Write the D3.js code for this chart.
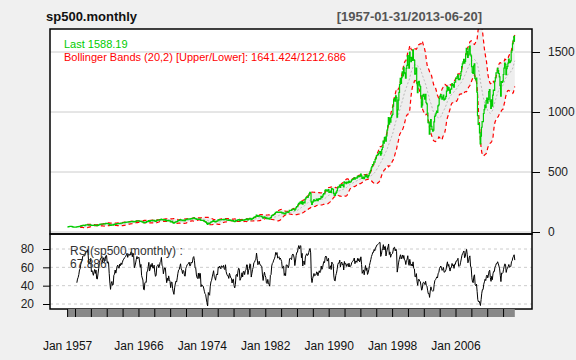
<!DOCTYPE html>
<html lang="en">
<head>
  <meta charset="UTF-8">
  <title>sp500.monthly</title>
  <style>
    body { margin: 0; background: #f0f0f0; }
    text { font-family: "Liberation Sans", Arial, sans-serif; }
  </style>
</head>
<body>
  <script src="https://d3js.org/d3.v7.min.js"></script>
  <script>
    // Monthly closes of the S&P 500, Jan 1957 - Jun 2013 (one row per year)
    let startYear = 1957;
    let closes = [
      44.72, 43.26, 44.11, 45.74, 47.43, 47.37, 47.91, 45.22, 42.42, 41.06, 41.72, 39.99,
      41.70, 40.84, 42.10, 43.44, 44.09, 45.24, 47.19, 47.75, 50.06, 51.33, 52.48, 55.21,
      55.42, 55.41, 55.44, 57.59, 58.68, 58.47, 60.51, 59.60, 56.88, 57.52, 58.28, 59.89,
      55.61, 56.12, 55.34, 54.37, 55.83, 56.92, 55.51, 56.96, 53.52, 53.39, 55.54, 58.11,
      61.78, 63.44, 65.06, 65.31, 66.56, 64.64, 66.76, 68.07, 66.73, 68.62, 71.32, 71.55,
      68.84, 69.96, 69.55, 65.24, 59.63, 54.75, 58.23, 59.12, 56.27, 56.52, 62.26, 63.10,
      66.20, 64.29, 66.57, 69.80, 70.80, 69.37, 69.13, 72.50, 71.70, 74.01, 73.23, 75.02,
      77.04, 77.80, 78.98, 79.46, 80.37, 81.69, 83.18, 81.83, 84.18, 84.86, 84.42, 84.75,
      87.56, 87.43, 86.16, 89.11, 88.42, 84.12, 85.25, 87.17, 89.96, 92.42, 91.61, 92.43,
      92.88, 91.22, 89.23, 91.06, 86.13, 84.74, 83.60, 77.10, 76.56, 80.20, 80.45, 80.33,
      86.61, 86.78, 90.20, 94.01, 89.08, 90.64, 94.75, 93.64, 96.71, 93.90, 94.00, 96.47,
      92.24, 89.36, 90.20, 97.59, 98.68, 99.58, 97.74, 98.86, 102.67, 103.41, 108.37, 103.86,
      103.01, 98.13, 101.51, 103.69, 103.46, 97.71, 91.83, 95.51, 93.12, 97.24, 93.81, 92.06,
      85.02, 89.50, 89.63, 81.52, 76.55, 72.72, 78.05, 81.52, 84.21, 83.25, 87.20, 92.15,
      95.88, 96.75, 100.31, 103.95, 99.63, 98.70, 95.58, 99.03, 98.34, 94.23, 93.99, 102.09,
      103.94, 106.57, 107.20, 107.67, 109.53, 107.14, 107.39, 111.09, 110.55, 111.58, 116.67, 118.05,
      116.03, 111.68, 111.52, 106.97, 104.95, 104.26, 108.22, 104.25, 108.43, 108.29, 95.96, 97.55,
      96.57, 96.22, 93.98, 90.31, 87.28, 86.00, 79.31, 72.15, 63.54, 73.90, 69.97, 68.56,
      76.98, 81.59, 83.36, 87.30, 91.15, 95.19, 88.75, 86.88, 83.87, 89.04, 91.24, 90.19,
      100.86, 99.71, 102.77, 101.64, 100.18, 104.28, 103.44, 102.91, 105.24, 102.90, 102.10, 107.46,
      102.03, 99.82, 98.42, 98.44, 96.12, 100.48, 98.85, 96.77, 96.53, 92.34, 94.83, 95.10,
      89.25, 87.04, 89.21, 96.83, 97.24, 95.53, 100.68, 103.29, 102.54, 93.15, 94.70, 96.11,
      99.93, 96.28, 101.59, 101.76, 99.08, 102.91, 103.81, 109.32, 109.32, 101.82, 106.16, 107.94,
      114.16, 113.66, 102.09, 106.29, 111.24, 114.24, 121.67, 122.38, 125.46, 127.47, 140.52, 135.76,
      129.55, 131.27, 136.00, 132.81, 132.59, 131.21, 130.92, 122.79, 116.18, 121.89, 126.35, 122.55,
      120.40, 113.11, 111.96, 116.44, 111.88, 109.61, 107.09, 119.51, 120.42, 133.71, 138.54, 140.64,
      145.30, 148.06, 152.96, 164.42, 162.39, 168.11, 162.56, 164.40, 166.07, 163.55, 166.40, 164.93,
      163.41, 157.06, 159.18, 160.05, 150.55, 153.18, 150.66, 166.68, 166.10, 166.09, 163.58, 167.24,
      179.63, 181.18, 180.66, 179.83, 189.55, 191.85, 190.92, 188.63, 182.08, 189.82, 202.17, 211.28,
      211.78, 226.92, 238.90, 235.52, 247.35, 250.84, 236.12, 252.93, 231.32, 243.98, 249.22, 242.17,
      274.08, 284.20, 291.70, 288.36, 290.10, 304.00, 318.66, 329.80, 321.83, 251.79, 230.30, 247.08,
      257.07, 267.82, 258.89, 261.33, 262.16, 273.50, 272.02, 261.52, 271.91, 278.97, 273.70, 277.72,
      297.47, 288.86, 294.87, 309.64, 320.52, 317.98, 346.08, 351.45, 349.15, 340.36, 345.99, 353.40,
      329.08, 331.89, 339.94, 330.80, 361.23, 358.02, 356.15, 322.56, 306.05, 304.00, 322.22, 330.22,
      343.93, 367.07, 375.22, 375.34, 389.83, 371.16, 387.81, 395.43, 387.86, 392.45, 375.22, 417.09,
      408.79, 412.70, 403.69, 414.95, 415.35, 408.14, 424.21, 414.03, 417.80, 418.68, 431.35, 435.71,
      438.78, 443.38, 451.67, 440.19, 450.19, 450.53, 448.13, 463.56, 458.93, 467.83, 461.79, 466.45,
      481.61, 467.14, 445.77, 450.91, 456.50, 444.27, 458.26, 475.49, 462.69, 472.35, 453.69, 459.27,
      470.42, 487.39, 500.71, 514.71, 533.40, 544.75, 562.06, 561.88, 584.41, 581.50, 605.37, 615.93,
      636.02, 640.43, 645.50, 654.17, 669.12, 670.63, 639.95, 651.99, 687.33, 705.27, 757.02, 740.74,
      786.16, 790.82, 757.12, 801.34, 848.28, 885.14, 954.29, 899.47, 947.28, 914.62, 955.40, 970.43,
      980.28, 1049.34, 1101.75, 1111.75, 1090.82, 1133.84, 1120.67, 957.28, 1017.01, 1098.67, 1163.63, 1229.23,
      1279.64, 1238.33, 1286.37, 1335.18, 1301.84, 1372.71, 1328.72, 1320.41, 1282.71, 1362.93, 1388.91, 1469.25,
      1394.46, 1366.42, 1498.58, 1452.43, 1420.60, 1454.60, 1430.83, 1517.68, 1436.51, 1429.40, 1314.95, 1320.28,
      1366.01, 1239.94, 1160.33, 1249.46, 1255.82, 1224.38, 1211.23, 1133.58, 1040.94, 1059.78, 1139.45, 1148.08,
      1130.20, 1106.73, 1147.39, 1076.92, 1067.14, 989.82, 911.62, 916.07, 815.28, 885.76, 936.31, 879.82,
      855.70, 841.15, 848.18, 916.92, 963.59, 974.50, 990.31, 1008.01, 995.97, 1050.71, 1058.20, 1111.92,
      1131.13, 1144.94, 1126.21, 1107.30, 1120.68, 1140.84, 1101.72, 1104.24, 1114.58, 1130.20, 1173.82, 1211.92,
      1181.27, 1203.60, 1180.59, 1156.85, 1191.50, 1191.33, 1234.18, 1220.33, 1228.81, 1207.01, 1249.48, 1248.29,
      1280.08, 1280.66, 1294.83, 1310.61, 1270.09, 1270.20, 1276.66, 1303.82, 1335.85, 1377.94, 1400.63, 1418.30,
      1438.24, 1406.82, 1420.86, 1482.37, 1530.62, 1503.35, 1455.27, 1473.99, 1526.75, 1549.38, 1481.14, 1468.36,
      1378.55, 1330.63, 1322.70, 1385.59, 1400.38, 1280.00, 1267.38, 1282.83, 1166.36, 968.75, 896.24, 903.25,
      825.88, 735.09, 797.87, 872.81, 919.14, 919.32, 987.48, 1020.62, 1057.08, 1036.19, 1095.63, 1115.10,
      1073.87, 1104.49, 1169.43, 1186.69, 1089.41, 1030.71, 1101.60, 1049.33, 1141.20, 1183.26, 1180.55, 1257.64,
      1286.12, 1327.22, 1325.83, 1363.61, 1345.20, 1320.64, 1292.28, 1218.89, 1131.42, 1253.30, 1246.96, 1257.60,
      1312.41, 1365.68, 1408.47, 1397.91, 1310.33, 1362.16, 1379.32, 1406.58, 1440.67, 1412.16, 1416.18, 1426.19,
      1498.11, 1514.68, 1569.19, 1597.57, 1630.74, 1588.19
    ];

    // Axis ticks and labels
    let priceTicks = [0, 500, 1000, 1500];
    let rsiTicks = [20, 40, 60, 80];
    let labelYears = [1957, 1966, 1974, 1982, 1990, 1998, 2006];
    let stripYears = d3.range(1958, 2014, 2);

    let titleText = "sp500.monthly";
    let rangeText = "[1957-01-31/2013-06-20]";
    let lastText = "Last 1588.19";
    let bbText = "Bollinger Bands (20,2) [Upper/Lower]: 1641.424/1212.686";
    let rsiText = ["RSI(sp500.monthly) :", "67.886"];

    // Panel geometry
    let svgWidth = 576, svgHeight = 360;
    let left = 50, right = 532;
    let mainTop = 29, mainBottom = 234, rsiBottom = 309;

    let svg = d3.select("body").append("svg")
      .attr("width", svgWidth)
      .attr("height", svgHeight);

    // Bollinger bands (20, 2) on close
    let bands = closes.map((c, i) => {
      if (i < 19) return null;
      let win = closes.slice(i - 19, i + 1);
      let m = d3.mean(win);
      let sd = Math.sqrt(d3.mean(win, v => (v - m) * (v - m)));
      return { i: i, mavg: m, up: m + 2 * sd, dn: m - 2 * sd };
    }).filter(d => d);

    // RSI(14), Wilder smoothing
    let rsi = [];
    let avgUp = 0, avgDn = 0;
    for (let i = 1; i < closes.length; i++) {
      let ch = closes[i] - closes[i - 1];
      let u = Math.max(ch, 0), dn = Math.max(-ch, 0);
      if (i <= 14) {
        avgUp += u / 14; avgDn += dn / 14;
        if (i === 14) rsi.push({ i: i, v: 100 * avgUp / (avgUp + avgDn) });
      } else {
        avgUp = (avgUp * 13 + u) / 14;
        avgDn = (avgDn * 13 + dn) / 14;
        rsi.push({ i: i, v: 100 * avgUp / (avgUp + avgDn) });
      }
    }

    // Scales
    let x = d3.scaleLinear().domain([0, closes.length - 1]).range([67.6, 514.8]);
    let yMain = d3.scaleLinear().domain([0, 1500]).range([232, 52]);
    let yRsi = d3.scaleLinear().domain([20, 80]).range([304, 249]);
    let idx = (yr) => (yr - startYear) * 12;

    // Panel backgrounds
    svg.append("rect").attr("x", left).attr("y", mainTop)
      .attr("width", right - left).attr("height", rsiBottom - mainTop)
      .attr("fill", "white");

    svg.append("clipPath").attr("id", "clipMain").append("rect")
      .attr("x", left).attr("y", mainTop).attr("width", right - left).attr("height", mainBottom - mainTop);
    svg.append("clipPath").attr("id", "clipRsi").append("rect")
      .attr("x", left).attr("y", mainBottom).attr("width", right - left).attr("height", rsiBottom - mainBottom);

    // Grid lines
    svg.selectAll(".gridMain").data(priceTicks).enter().append("line")
      .attr("x1", left).attr("x2", right)
      .attr("y1", d => yMain(d)).attr("y2", d => yMain(d))
      .attr("stroke", "#cccccc").attr("stroke-width", 1);

    svg.selectAll(".gridRsi").data(rsiTicks).enter().append("line")
      .attr("x1", left).attr("x2", right)
      .attr("y1", d => yRsi(d)).attr("y2", d => yRsi(d))
      .attr("stroke", "#cccccc").attr("stroke-width", 1)
      .attr("stroke-dasharray", "3,3");

    // Main panel: bands and price
    let mainG = svg.append("g").attr("clip-path", "url(#clipMain)");

    mainG.append("path").datum(bands)
      .attr("d", d3.area().x(d => x(d.i)).y0(d => yMain(d.dn)).y1(d => yMain(d.up)))
      .attr("fill", "#eeeeee");

    mainG.append("path").datum(bands)
      .attr("d", d3.line().x(d => x(d.i)).y(d => yMain(d.mavg)))
      .attr("fill", "none").attr("stroke", "#b8b8b8").attr("stroke-width", 1)
      .attr("stroke-dasharray", "2,2");

    ["up", "dn"].forEach(k => {
      mainG.append("path").datum(bands)
        .attr("d", d3.line().x(d => x(d.i)).y(d => yMain(d[k])))
        .attr("fill", "none").attr("stroke", "#ff0000").attr("stroke-width", 1.2)
        .attr("stroke-dasharray", "4,3");
    });

    mainG.append("path").datum(closes)
      .attr("d", d3.line().curve(d3.curveStep).x((d, i) => x(i)).y(d => yMain(d)))
      .attr("fill", "none").attr("stroke", "#00cc00").attr("stroke-width", 1.2);

    // RSI panel
    svg.append("g").attr("clip-path", "url(#clipRsi)")
      .append("path").datum(rsi)
      .attr("d", d3.line().x(d => x(d.i)).y(d => yRsi(d.v)))
      .attr("fill", "none").attr("stroke", "black").attr("stroke-width", 1);

    // Panel frames
    [[mainTop, mainBottom], [mainBottom, rsiBottom]].forEach(p => {
      svg.append("rect").attr("x", left).attr("y", p[0])
        .attr("width", right - left).attr("height", p[1] - p[0])
        .attr("fill", "none").attr("stroke", "black").attr("stroke-width", 1.5);
    });

    // Right axis for price
    let priceAxis = svg.append("g")
      .attr("transform", `translate(${right},0)`)
      .call(d3.axisRight(yMain).tickValues(priceTicks).tickFormat(d3.format("d"))
        .tickSize(8).tickPadding(8));
    priceAxis.select(".domain").remove();
    priceAxis.selectAll("text").style("font-size", "12px").attr("fill", "#222")
      .style("font-family", "Liberation Sans, Arial, sans-serif");

    // Left axis for RSI
    let rsiAxis = svg.append("g")
      .attr("transform", `translate(${left},0)`)
      .call(d3.axisLeft(yRsi).tickValues(rsiTicks).tickSize(7).tickPadding(9));
    rsiAxis.select(".domain").remove();
    rsiAxis.selectAll("text").style("font-size", "12px").attr("fill", "#222")
      .style("font-family", "Liberation Sans, Arial, sans-serif");

    // Gray time strip under RSI panel
    let stripEdges = [0].concat(stripYears.map(idx));
    svg.append("rect")
      .attr("x", x(0)).attr("y", rsiBottom)
      .attr("width", x(closes.length - 1) - x(0)).attr("height", 8)
      .attr("fill", "#888888");
    svg.selectAll(".sep").data(stripEdges).enter().append("line")
      .attr("x1", d => x(d)).attr("x2", d => x(d))
      .attr("y1", rsiBottom).attr("y2", rsiBottom + 8)
      .attr("stroke", "black").attr("stroke-width", 1);

    // Time labels
    svg.selectAll(".xlab").data(labelYears).enter().append("text")
      .attr("x", d => x(idx(d)))
      .attr("y", 350)
      .attr("text-anchor", "middle")
      .style("font-size", "12px")
      .attr("fill", "#111")
      .text(d => "Jan " + d);

    // Titles and legends
    svg.append("text").attr("x", 46).attr("y", 21)
      .style("font-size", "13px").style("font-weight", "bold").attr("fill", "#111")
      .text(titleText);
    svg.append("text").attr("x", 482).attr("y", 21).attr("text-anchor", "end")
      .style("font-size", "13px").style("font-weight", "bold").attr("fill", "#555")
      .text(rangeText);

    svg.append("text").attr("x", 64).attr("y", 48)
      .style("font-size", "11px").attr("fill", "#00cc00").text(lastText);
    svg.append("text").attr("x", 64).attr("y", 61)
      .style("font-size", "11px").attr("fill", "#ff0000").text(bbText);

    svg.selectAll(".rsiLab").data(rsiText).enter().append("text")
      .attr("x", 70).attr("y", (d, i) => 255 + i * 13)
      .style("font-size", "12px").attr("fill", "#333")
      .text(d => d);
  </script>
</body>
</html>
